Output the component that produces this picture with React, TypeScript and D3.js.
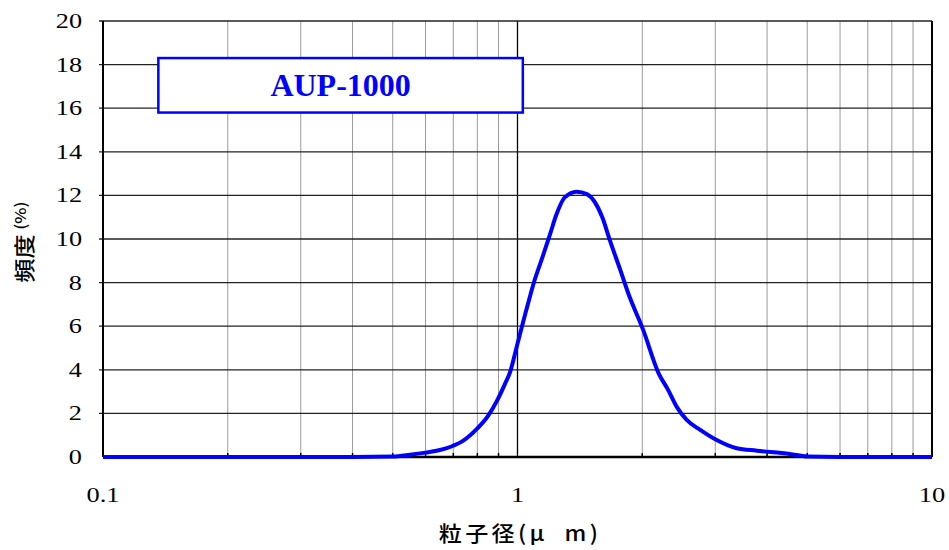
import { useEffect, useRef } from "react";
import * as d3 from "d3";

// particle size distribution (μm vs frequency %)
const sizes = [
  0.1, 0.2, 0.3, 0.4, 0.5, 0.55, 0.6, 0.65, 0.69, 0.74, 0.8, 0.85, 0.89, 0.93,
  0.96, 1.0, 1.05, 1.1, 1.15, 1.2, 1.24, 1.3, 1.39, 1.47, 1.6, 1.67, 1.77, 1.85,
  2.01, 2.19, 2.31, 2.42, 2.56, 2.76, 3.0, 3.38, 3.78, 4.54, 5.0, 6, 8, 10,
];
const freq = [
  0, 0, 0, 0, 0.02, 0.1, 0.2, 0.32, 0.47, 0.75, 1.31, 1.9, 2.54, 3.3,
  3.91, 5.2, 6.74, 8.12, 9.19, 10.26, 11.1, 11.91, 12.17, 12.06, 11.02, 9.95, 8.58, 7.51,
  5.83, 3.84, 3.07, 2.31, 1.7, 1.24, 0.81, 0.4, 0.29, 0.14, 0.02, 0, 0, 0,
];
const yTicks = [0, 2, 4, 6, 8, 10, 12, 14, 16, 18, 20];
const xTicks = [0.1, 1, 10];
const sampleName = "AUP-1000";

const serif = "'Liberation Serif', 'Times New Roman', serif";
const jp = "'Noto Sans CJK JP', sans-serif";

export default function App() {
  const svgRef = useRef<SVGSVGElement | null>(null);

  useEffect(() => {
    if (!svgRef.current) return;
    const width = 949;
    const height = 550;
    const margin = { top: 21, right: 17, bottom: 93, left: 103 };
    const w = width - margin.left - margin.right;
    const h = height - margin.top - margin.bottom;

    const svg = d3.select(svgRef.current);
    svg.selectAll("*").remove();
    svg.attr("width", width).attr("height", height);

    const x = d3.scaleLog().domain([0.1, 10]).range([0, w]);
    const y = d3.scaleLinear().domain([0, 20]).range([h, 0]);

    const g = svg.append("g").attr("transform", `translate(${margin.left},${margin.top})`);

    // minor vertical grid
    const minor: number[] = [];
    for (const base of [0.1, 1]) for (let k = 2; k <= 9; k++) minor.push(base * k);
    g.selectAll("line.vminor")
      .data(minor)
      .enter()
      .append("line")
      .attr("x1", d => x(d))
      .attr("x2", d => x(d))
      .attr("y1", 0)
      .attr("y2", h)
      .attr("stroke", "#9a9a9a")
      .attr("stroke-width", 1);

    // small ticks on bottom axis
    g.selectAll("line.xtick")
      .data(minor)
      .enter()
      .append("line")
      .attr("x1", d => x(d))
      .attr("x2", d => x(d))
      .attr("y1", h)
      .attr("y2", h - 4)
      .attr("stroke", "#000")
      .attr("stroke-width", 1.5);

    // major vertical at 1
    g.append("line")
      .attr("x1", x(1))
      .attr("x2", x(1))
      .attr("y1", 0)
      .attr("y2", h)
      .attr("stroke", "#000")
      .attr("stroke-width", 1.3);

    // horizontal grid
    g.selectAll("line.hgrid")
      .data(yTicks.filter(t => t > 0))
      .enter()
      .append("line")
      .attr("x1", -4)
      .attr("x2", w)
      .attr("y1", d => y(d))
      .attr("y2", d => y(d))
      .attr("stroke", "#222")
      .attr("stroke-width", 1.3);

    // frame
    g.append("line").attr("x1", 0).attr("x2", 0).attr("y1", 0).attr("y2", h)
      .attr("stroke", "#000").attr("stroke-width", 2);
    g.append("line").attr("x1", w).attr("x2", w).attr("y1", 0).attr("y2", h)
      .attr("stroke", "#000").attr("stroke-width", 2);
    g.append("line").attr("x1", 0).attr("x2", w).attr("y1", h).attr("y2", h)
      .attr("stroke", "#000").attr("stroke-width", 2.5);

    // tick labels (slightly wide, like the stretched original)
    g.selectAll("text.ylab")
      .data(yTicks)
      .enter()
      .append("text")
      .attr("transform", d => `translate(-21,${y(d) + 7}) scale(1.25,1)`)
      .attr("text-anchor", "end")
      .attr("font-family", serif)
      .attr("font-size", 21)
      .attr("fill", "#000")
      .text(d => String(d));

    g.selectAll("text.xlab")
      .data(xTicks)
      .enter()
      .append("text")
      .attr("transform", d => `translate(${x(d)},${h + 45}) scale(1.2,1)`)
      .attr("text-anchor", "middle")
      .attr("font-family", serif)
      .attr("font-size", 22)
      .attr("fill", "#000")
      .text(d => String(d));

    // axis titles
    svg.append("text")
      .attr("transform", `translate(520,541) scale(1.1,1)`)
      .attr("text-anchor", "middle")
      .attr("font-family", jp)
      .attr("font-size", 21)
      .attr("font-weight", 500)
      .attr("letter-spacing", 3)
      .attr("fill", "#000")
      .text("粒子径(μ\u00a0\u00a0m)");

    const yt = svg.append("text")
      .attr("transform", `translate(32,242) rotate(-90) scale(1.15,1)`)
      .attr("text-anchor", "middle")
      .attr("font-family", jp)
      .attr("font-weight", 500)
      .attr("fill", "#000");
    yt.append("tspan").attr("font-size", 21).text("頻度");
    yt.append("tspan").attr("font-size", 15).attr("dx", 4).attr("dy", -6).text("(%)");

    // sample label box
    const box = g.append("g");
    box.append("rect")
      .attr("x", x(0.136))
      .attr("y", y(18.3))
      .attr("width", x(1.03) - x(0.136))
      .attr("height", y(15.8) - y(18.3))
      .attr("fill", "#fff")
      .attr("stroke", "#0000ff")
      .attr("stroke-width", 2.5);
    box.append("text")
      .attr("x", (x(0.136) + x(1.03)) / 2)
      .attr("y", y(17.05) + 11)
      .attr("text-anchor", "middle")
      .attr("font-family", serif)
      .attr("font-weight", 700)
      .attr("font-size", 32)
      .attr("fill", "#0000ff")
      .text(sampleName);

    // distribution curve
    const pts = sizes.map((s, i) => [s, freq[i]] as [number, number]);
    const line = d3.line<[number, number]>()
      .x(d => x(d[0]))
      .y(d => y(d[1]))
      .curve(d3.curveMonotoneX);
    g.append("path")
      .datum(pts)
      .attr("d", line)
      .attr("fill", "none")
      .attr("stroke", "#0000ff")
      .attr("stroke-width", 4)
      .attr("stroke-linejoin", "round");
  }, []);

  return <svg ref={svgRef} style={{ position: "absolute", left: 0, top: 0 }} />;
}
